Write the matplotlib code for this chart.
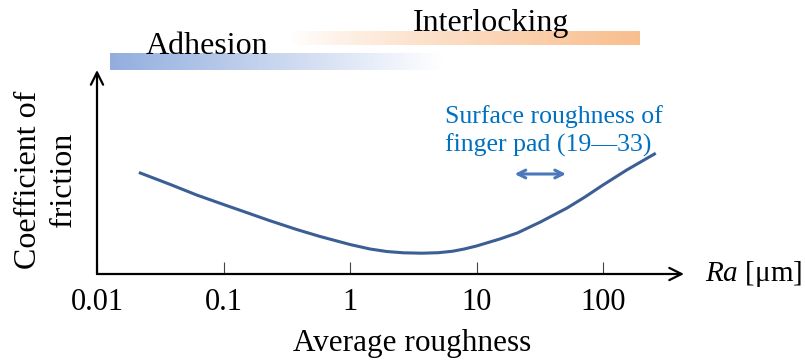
import numpy as np
import matplotlib
matplotlib.use('Agg')
import matplotlib.pyplot as plt
from matplotlib.colors import LinearSegmentedColormap

plt.rcParams['font.family'] = ['Liberation Serif', 'DejaVu Serif']
plt.rcParams['mathtext.fontset'] = 'custom'
plt.rcParams['mathtext.rm'] = 'Liberation Serif'
plt.rcParams['mathtext.it'] = 'Liberation Serif:italic'

# friction curve (Ra in um, height in arbitrary units)
ra = [0.022, 0.038, 0.0614, 0.1, 0.152, 0.23, 0.379, 0.58, 1, 1.44, 1.95, 2.64, 3.7,
      5, 6.5, 8, 10, 15.3, 21, 32, 52, 72, 100, 154, 255]
cof = [101, 89.5, 79, 69.5, 61.5, 53.5, 44.5, 37.5, 29.5, 25, 22.5, 21.2, 20.8,
       21.3, 22.8, 25, 28, 35, 41, 52, 66, 77, 89, 104, 120]

# regimes shown as gradient bars
adhesion_range = (0.0126, 5.7)
interlocking_range = (0.33, 195)
# finger pad roughness arrow
finger_range = (20, 51)

tick_vals = [0.01, 0.1, 1, 10, 100]
tick_labels = ['0.01', '0.1', '1', '10', '100']

fig = plt.figure(figsize=(8.05, 3.6), dpi=100)
ax = fig.add_axes([97 / 805, 86 / 360, (684 - 97) / 805, 204 / 360])
ax.set_xscale('log')
ax.set_xlim(0.01, 10 ** ((684 - 97) / 126.5 - 2))
ax.set_ylim(0, 204)
for s in ax.spines.values():
    s.set_visible(False)
ax.set_yticks([])
ax.set_xticks(tick_vals)
ax.set_xticklabels(tick_labels, fontsize=22)
ax.minorticks_off()
ax.tick_params(axis='x', direction='in', length=9, width=0.8, pad=10, color='#444444')

# axes arrows
ax.annotate('', xy=(1, 0), xytext=(0, 0), xycoords='axes fraction',
            arrowprops=dict(arrowstyle='->', lw=1.6, color='black', mutation_scale=22,
                            shrinkA=0, shrinkB=0))
ax.annotate('', xy=(0, 1), xytext=(0, 0), xycoords='axes fraction',
            arrowprops=dict(arrowstyle='->', lw=1.6, color='black', mutation_scale=22,
                            shrinkA=0, shrinkB=0))

ax.plot(ra, cof, color='#3B5F94', lw=2.2, solid_joinstyle='round')

# gradient bars
blue_cmap = LinearSegmentedColormap.from_list('b', ['#92ADDE', '#ffffff'])
orange_cmap = LinearSegmentedColormap.from_list('o', ['#ffffff', '#F8BE8E'])
n = 200
xe = np.logspace(np.log10(adhesion_range[0]), np.log10(adhesion_range[1]), n + 1)
ax.pcolormesh(xe, [204, 221], np.linspace(0, 1, n)[None, :], cmap=blue_cmap,
              shading='flat', clip_on=False)
xe = np.logspace(np.log10(interlocking_range[0]), np.log10(interlocking_range[1]), n + 1)
ax.pcolormesh(xe, [229, 243], np.linspace(0, 1, n)[None, :] ** 0.8, cmap=orange_cmap,
              shading='flat', clip_on=False)

ax.text(0.074, 227, 'Adhesion', fontsize=23, ha='center', va='center')
ax.text(13, 250, 'Interlocking', fontsize=23, ha='center', va='center')

ax.text(5.6, 143, 'Surface roughness of\nfinger pad (19\u201433)', fontsize=18.5,
        color='#0070C0', ha='left', va='center', linespacing=1.3)
ax.annotate('', xy=(finger_range[1], 100), xytext=(finger_range[0], 100),
            arrowprops=dict(arrowstyle='<->', lw=2.2, color='#4A78BA', mutation_scale=14,
                            shrinkA=0, shrinkB=0))

ax.text(1.035, 0.0, r'$\mathit{Ra}$ [μm]', transform=ax.transAxes, fontsize=21,
        ha='left', va='center')

fig.text(46 / 805, 0.5, 'Coefficient of\nfriction', rotation=90, fontsize=23,
         ha='center', va='center', linespacing=1.25)
fig.text(412 / 805, 1 - 344 / 360, 'Average roughness', fontsize=22.5,
         ha='center', va='center')

fig.savefig('out.png', dpi=100)
